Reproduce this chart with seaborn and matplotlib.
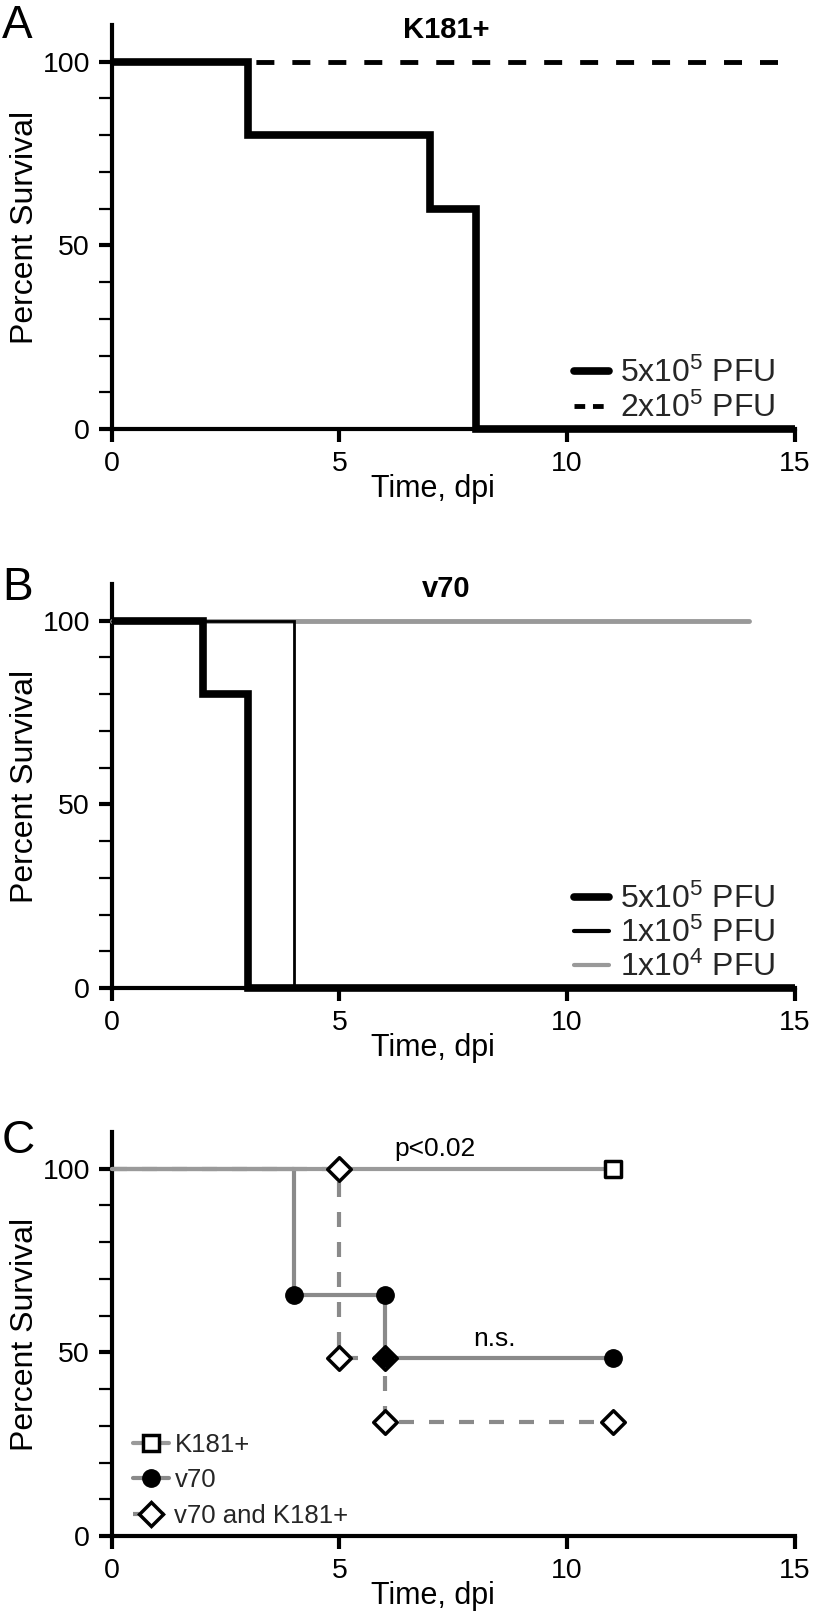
import matplotlib
matplotlib.use("Agg")
import matplotlib.pyplot as plt
from matplotlib.lines import Line2D
import seaborn as sns

# ---------------- data ----------------
# Panel A: K181+
a_time_5e5 = [0, 3, 7, 8, 15]
a_surv_5e5 = [100, 80, 60, 0, 0]
a_time_2e5 = [0, 15]
a_surv_2e5 = [100, 100]
a_labels = ["5x10$^5$ PFU", "2x10$^5$ PFU"]

# Panel B: v70
b_time_5e5 = [0, 2, 3, 15]
b_surv_5e5 = [100, 80, 0, 0]
b_time_1e5 = [0, 4, 15]
b_surv_1e5 = [100, 0, 0]
b_time_1e4 = [0, 14]
b_surv_1e4 = [100, 100]
b_labels = ["5x10$^5$ PFU", "1x10$^5$ PFU", "1x10$^4$ PFU"]

# Panel C: comparison
c_time_k181 = [0, 11]
c_surv_k181 = [100, 100]
c_mark_k181_x = [11]
c_mark_k181_y = [100]
c_time_v70 = [0, 4, 6, 11]
c_surv_v70 = [100, 65.5, 48.5, 48.5]
c_mark_v70_x = [4, 6, 6, 11]
c_mark_v70_y = [65.5, 65.5, 48.5, 48.5]
c_time_both = [0, 5, 6, 11]
c_surv_both = [100, 48.5, 31, 31]
c_mark_both_x = [5, 5, 6, 6, 11]
c_mark_both_y = [100, 48.5, 48.5, 31, 31]
c_labels = ["K181+", "v70", "v70 and K181+"]

titles = ["K181+", "v70"]
panel_letters = ["A", "B", "C"]
x_ticks = [0, 5, 10, 15]
y_ticks = [0, 50, 100]
y_minor = [10, 20, 30, 40, 60, 70, 80, 90]

# ---------------- style ----------------
sns.set_theme(style="ticks")
plt.rcParams["font.family"] = ["Liberation Sans", "DejaVu Sans"]
plt.rcParams["mathtext.fontset"] = "custom"
plt.rcParams["mathtext.rm"] = "Liberation Sans"
plt.rcParams["mathtext.it"] = "Liberation Sans"
plt.rcParams["mathtext.bf"] = "Liberation Sans:bold"
plt.rcParams["mathtext.default"] = "rm"

W, H = 814, 1619
fig = plt.figure(figsize=(W / 100, H / 100), dpi=100)
fig.patch.set_facecolor("white")

left = 111.5 / W
width = 683.5 / W
height = 404 / H
bottoms = [1 - 429 / H, 1 - 988 / H, 1 - 1536 / H]
axes = [fig.add_axes([left, b, width, height]) for b in bottoms]

GRAY_B = "#999999"
GRAY_C = "#8a8a8a"


def style_axes(ax):
    sns.despine(ax=ax)
    ax.set_facecolor("white")
    ax.grid(False)
    ax.set_xlim(0, 15)
    ax.set_ylim(0, 110)
    ax.set_xticks(x_ticks)
    ax.set_yticks(y_ticks)
    ax.set_yticks(y_minor, minor=True)
    ax.tick_params(which="major", length=9.5, width=3, pad=6, labelsize=20.5,
                   color="black", labelcolor="black", direction="out")
    ax.tick_params(axis="y", which="minor", length=9.5, width=1.6,
                   color="black", direction="out")
    ax.tick_params(axis="x", which="minor", length=0)
    for s in ["left", "bottom"]:
        ax.spines[s].set_linewidth(3)
        ax.spines[s].set_color("black")
    ax.set_xlabel("Time, dpi", fontsize=22, color="black")
    ax.set_ylabel("Percent Survival", fontsize=23, color="black")
    ax.xaxis.set_label_coords(0.47, -0.112)
    ax.yaxis.set_label_coords(-0.105, 0.5)


# ---------------- Panel A ----------------
ax = axes[0]
sns.lineplot(x=a_time_2e5, y=a_surv_2e5, ax=ax, estimator=None, color="black",
             linewidth=3.5, linestyle=(0, (3.7, 3.7)), drawstyle="steps-post",
             clip_on=False, zorder=3)
sns.lineplot(x=a_time_5e5, y=a_surv_5e5, ax=ax, estimator=None, color="black",
             linewidth=5.5, drawstyle="steps-post", clip_on=False, zorder=4,
             solid_joinstyle="miter", solid_capstyle="butt")
style_axes(ax)
hA = [Line2D([], [], color="black", lw=5.5),
      Line2D([], [], color="black", lw=3.5, linestyle=(0, (2.2, 1.6)))]
ax.legend(hA, a_labels, loc="lower right", bbox_to_anchor=(0.972, 0.012),
          frameon=False, fontsize=23, handlelength=1.1, handletextpad=0.35,
          labelspacing=0.12, borderpad=0, borderaxespad=0)

# ---------------- Panel B ----------------
ax = axes[1]
sns.lineplot(x=b_time_1e4, y=b_surv_1e4, ax=ax, estimator=None, color=GRAY_B,
             linewidth=3.5, drawstyle="steps-post", clip_on=False, zorder=3)
sns.lineplot(x=b_time_1e5, y=b_surv_1e5, ax=ax, estimator=None, color="black",
             linewidth=2, drawstyle="steps-post", clip_on=False, zorder=4,
             solid_joinstyle="miter")
sns.lineplot(x=b_time_5e5, y=b_surv_5e5, ax=ax, estimator=None, color="black",
             linewidth=5.5, drawstyle="steps-post", clip_on=False, zorder=5,
             solid_joinstyle="miter", solid_capstyle="butt")
style_axes(ax)
hB = [Line2D([], [], color="black", lw=5.5),
      Line2D([], [], color="black", lw=3),
      Line2D([], [], color=GRAY_B, lw=3)]
ax.legend(hB, b_labels, loc="lower right", bbox_to_anchor=(0.972, 0.012),
          frameon=False, fontsize=23, handlelength=1.1, handletextpad=0.35,
          labelspacing=0.08, borderpad=0, borderaxespad=0)

# ---------------- Panel C ----------------
ax = axes[2]
sns.lineplot(x=c_time_both, y=c_surv_both, ax=ax, estimator=None, color=GRAY_C,
             linewidth=3, linestyle=(0, (3.6, 3.6)), drawstyle="steps-post",
             clip_on=False, zorder=2)
sns.lineplot(x=c_time_v70, y=c_surv_v70, ax=ax, estimator=None, color=GRAY_C,
             linewidth=3, drawstyle="steps-post", clip_on=False, zorder=3)
sns.lineplot(x=c_time_k181, y=c_surv_k181, ax=ax, estimator=None, color="#9a9a9a",
             linewidth=3, drawstyle="steps-post", clip_on=False, zorder=3)
sns.scatterplot(x=c_mark_both_x, y=c_mark_both_y, ax=ax, marker="D", s=12 ** 2,
                color="white", edgecolor="black", linewidth=2.5, zorder=5,
                clip_on=False)
sns.scatterplot(x=c_mark_v70_x, y=c_mark_v70_y, ax=ax, marker="o", s=12.5 ** 2,
                color="black", edgecolor="black", linewidth=1, zorder=6,
                clip_on=False)
sns.scatterplot(x=c_mark_k181_x, y=c_mark_k181_y, ax=ax, marker="s", s=11 ** 2,
                color="white", edgecolor="black", linewidth=2.5, zorder=6,
                clip_on=False)
style_axes(ax)
ax.text(7.1, 103.5, "p<0.02", fontsize=19, ha="center", va="baseline", color="black")
ax.text(8.4, 51.8, "n.s.", fontsize=19, ha="center", va="baseline", color="black")
hC = [Line2D([], [], color="#9a9a9a", lw=3, marker="s", ms=11, mfc="white",
             mec="black", mew=2.5),
      Line2D([], [], color=GRAY_C, lw=3, marker="o", ms=12.5, mfc="black",
             mec="black"),
      Line2D([], [], color=GRAY_C, lw=3, linestyle=(0, (1.5, 1.5)), marker="D",
             ms=12, mfc="white", mec="black", mew=2.5)]
ax.legend(hC, c_labels, loc="lower left", bbox_to_anchor=(0.032, 0.02),
          frameon=False, fontsize=18.5, handlelength=1.4, handletextpad=0.2,
          labelspacing=0.45, borderpad=0, borderaxespad=0)

# ---------------- titles and panel letters ----------------
for ax, t in zip(axes[:2], titles):
    ax.text(0.49, 0.988, t, transform=ax.transAxes, ha="center", va="center",
            fontsize=21, fontweight="bold", color="black")

letter_baselines = [38, 600, 1153]
for letter, yb in zip(panel_letters, letter_baselines):
    fig.text(2 / W, 1 - yb / H, letter, fontsize=33, ha="left", va="baseline",
             color="black")

fig.savefig("out.png", dpi=100, facecolor="white")
